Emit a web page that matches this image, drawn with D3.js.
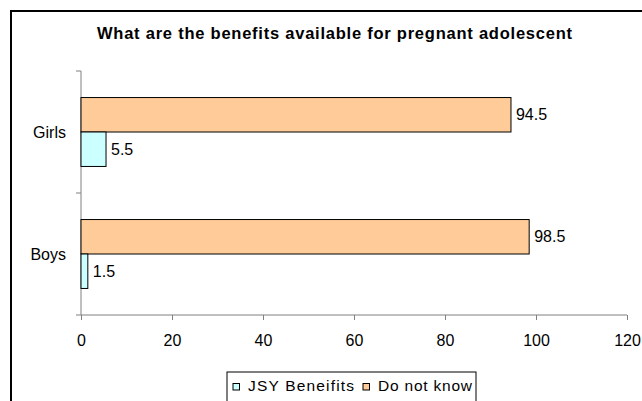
<!DOCTYPE html>
<html>
<head>
<meta charset="utf-8">
<script src="https://cdn.jsdelivr.net/npm/d3@7"></script>
<style>
  html, body { margin: 0; padding: 0; background: #fff; }
  svg { display: block; font-family: "Liberation Sans", Arial, sans-serif; }
</style>
</head>
<body>
<svg id="chart" width="642" height="401"></svg>
<script>
// Survey responses by group (percent)
const categories = ["Girls", "Boys"];
const seriesNames = ["Do not know", "JSY Beneifits"];
const doNotKnow = [94.5, 98.5];
const jsyBenefits = [5.5, 1.5];
const xTicks = [0, 20, 40, 60, 80, 100, 120];
const legendOrder = ["JSY Beneifits", "Do not know"];
const colors = { "JSY Beneifits": "#CCFFFF", "Do not know": "#FFCC99" };

const svg = d3.select("#chart");

// Outer chart frame
svg.append("rect")
  .attr("x", 11).attr("y", 11)
  .attr("width", 640).attr("height", 400)
  .attr("fill", "none").attr("stroke", "#000").attr("stroke-width", 2);

// Title
svg.append("text")
  .attr("x", 97).attr("y", 38.5)
  .attr("font-size", 16.5).attr("font-weight", "bold")
  .attr("textLength", 475).attr("lengthAdjust", "spacing")
  .text("What are the benefits available for pregnant adolescent");

const plot = { left: 81, top: 71, right: 627, bottom: 315 };

const x = d3.scaleLinear().domain([0, 120]).range([plot.left, plot.right]);
const y = d3.scaleBand().domain(categories).range([plot.top, plot.bottom]);
const inner = d3.scaleBand().domain(seriesNames)
  .range([0, y.bandwidth()]).paddingOuter(0.77).paddingInner(0);

const rows = categories.map((c, i) => ({
  cat: c,
  values: [
    { name: "Do not know", value: doNotKnow[i] },
    { name: "JSY Beneifits", value: jsyBenefits[i] }
  ]
}));

// X axis
const xAxis = svg.append("g")
  .attr("transform", `translate(0,${plot.bottom})`)
  .call(d3.axisBottom(x).tickValues(xTicks).tickSize(5).tickPadding(15).tickFormat(d3.format("d")));
xAxis.select(".domain").attr("stroke", "#808080").attr("d", `M${plot.left},0H${plot.right}`);
xAxis.selectAll(".tick line").attr("stroke", "#808080");
xAxis.selectAll(".tick text").attr("font-size", 16).attr("fill", "#000")
  .attr("font-family", "Liberation Sans, Arial, sans-serif");

// Y axis (category boundaries carry the ticks)
const yAxisG = svg.append("g");
yAxisG.append("line")
  .attr("x1", plot.left).attr("x2", plot.left)
  .attr("y1", plot.top).attr("y2", plot.bottom)
  .attr("stroke", "#808080");
const boundaries = [plot.top].concat(categories.map(c => y(c) + y.bandwidth()));
yAxisG.selectAll("line.tk").data(boundaries).join("line")
  .attr("class", "tk")
  .attr("x1", plot.left - 5).attr("x2", plot.left)
  .attr("y1", d => d).attr("y2", d => d)
  .attr("stroke", "#808080");
yAxisG.selectAll("text").data(categories).join("text")
  .attr("x", plot.left - 15)
  .attr("y", d => y(d) + y.bandwidth() / 2)
  .attr("dy", "0.35em")
  .attr("text-anchor", "end")
  .attr("font-size", 16)
  .text(d => d);

// Bars
const groups = svg.append("g").selectAll("g").data(rows).join("g")
  .attr("transform", d => `translate(0,${y(d.cat)})`);

groups.selectAll("rect").data(d => d.values).join("rect")
  .attr("x", x(0))
  .attr("y", d => inner(d.name))
  .attr("width", d => x(d.value) - x(0))
  .attr("height", inner.bandwidth())
  .attr("fill", d => colors[d.name])
  .attr("stroke", "#000").attr("stroke-width", 1);

groups.selectAll("text").data(d => d.values).join("text")
  .attr("x", d => x(d.value) + 5)
  .attr("y", d => inner(d.name) + inner.bandwidth() / 2)
  .attr("dy", "0.35em")
  .attr("font-size", 16)
  .text(d => d.value);

// Legend
const legend = svg.append("g").attr("transform", "translate(227,372)");
legend.append("rect")
  .attr("x", 0).attr("y", 0).attr("width", 249).attr("height", 40)
  .attr("fill", "#fff").attr("stroke", "#000").attr("stroke-width", 1);
const itemX = [6, 136];
const itemTextLen = [106, 94];
legendOrder.forEach((name, i) => {
  legend.append("rect")
    .attr("x", itemX[i]).attr("y", 11.5).attr("width", 6.5).attr("height", 6.5)
    .attr("fill", colors[name]).attr("stroke", "#000").attr("stroke-width", 1);
  legend.append("text")
    .attr("x", itemX[i] + 15).attr("y", 18.5)
    .attr("font-size", 15.5)
    .attr("textLength", itemTextLen[i]).attr("lengthAdjust", "spacing")
    .text(name);
});
</script>
</body>
</html>
